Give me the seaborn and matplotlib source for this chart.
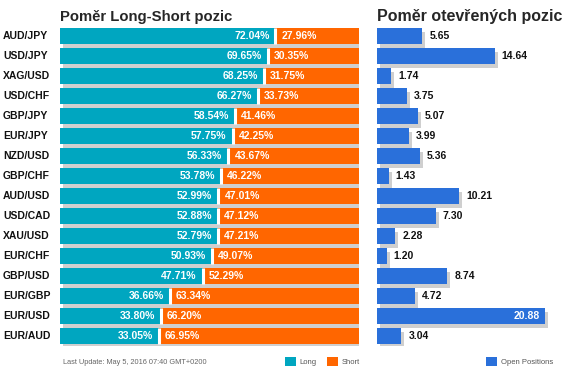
import numpy as np
import pandas as pd
import matplotlib
matplotlib.use("Agg")
import matplotlib.pyplot as plt
import matplotlib.transforms as mtransforms
from matplotlib.patches import Patch
import seaborn as sns

# ============================================================
# DATEN
# ============================================================
pairs = ["AUD/JPY", "USD/JPY", "XAG/USD", "USD/CHF", "GBP/JPY", "EUR/JPY",
         "NZD/USD", "GBP/CHF", "AUD/USD", "USD/CAD", "XAU/USD", "EUR/CHF",
         "GBP/USD", "EUR/GBP", "EUR/USD", "EUR/AUD"]
long_pct = [72.04, 69.65, 68.25, 66.27, 58.54, 57.75, 56.33, 53.78,
            52.99, 52.88, 52.79, 50.93, 47.71, 36.66, 33.80, 33.05]
short_pct = [27.96, 30.35, 31.75, 33.73, 41.46, 42.25, 43.67, 46.22,
             47.01, 47.12, 47.21, 49.07, 52.29, 63.34, 66.20, 66.95]
open_pos = [5.65, 14.64, 1.74, 3.75, 5.07, 3.99, 5.36, 1.43,
            10.21, 7.30, 2.28, 1.20, 8.74, 4.72, 20.88, 3.04]

title_left = "Poměr Long-Short pozic"
title_right = "Poměr otevřených pozic"
footer = "Last Update: May 5, 2016 07:40 GMT+0200"

df = pd.DataFrame({"pair": pairs, "long": long_pct, "short": short_pct, "open": open_pos})

TEAL = "#00a6c0"
ORANGE = "#ff6600"
BLUE = "#2a70da"
SHADOW = "#cfcfcf"

sns.set_style("white")
plt.rcParams["font.family"] = ["Liberation Sans", "DejaVu Sans"]

W, H = 569, 376
fig = plt.figure(figsize=(W / 100, H / 100), dpi=100)

def px_axes(x0, x1, y_top, y_bot):
    return fig.add_axes([x0 / W, 1 - y_bot / H, (x1 - x0) / W, (y_bot - y_top) / H])

ax_l = px_axes(60, 359, 26, 346)
ax_r = px_axes(377, 570, 26, 346)

n = len(pairs)
ypos = np.arange(n)
bar_h = 0.78

def shadow_trans(ax):
    return ax.transData + mtransforms.ScaledTranslation(3 / 100, -4 / 100, fig.dpi_scale_trans)

# ============================================================
# LINKS: LONG / SHORT
# ============================================================
totals = df["long"] + df["short"]
ax_l.barh(ypos, totals, height=bar_h, color=SHADOW, linewidth=0,
          transform=shadow_trans(ax_l), zorder=0.5)
sns.barplot(data=df, x="long", y="pair", orient="h", color=TEAL, saturation=1,
            width=bar_h, linewidth=0, ax=ax_l, zorder=2)
ax_l.barh(ypos, df["short"], left=df["long"], height=bar_h, color=ORANGE, linewidth=0, zorder=1)
ax_l.vlines(df["long"], ypos - bar_h / 2, ypos + bar_h / 2, color="white", lw=2.2, zorder=3)

pair_trans = mtransforms.blended_transform_factory(fig.transFigure, ax_l.transData)
for i, row in df.iterrows():
    ax_l.annotate(f"{row['long']:.2f}%", (row["long"], i), xytext=(-6, 0),
                  textcoords="offset pixels", ha="right", va="center",
                  color="white", fontsize=7.5, fontweight="bold", zorder=4)
    ax_l.annotate(f"{row['short']:.2f}%", (row["long"], i), xytext=(6, 0),
                  textcoords="offset pixels", ha="left", va="center",
                  color="white", fontsize=7.5, fontweight="bold", zorder=4)
    ax_l.text(3 / W, i, row["pair"], transform=pair_trans,
              ha="left", va="center", fontsize=7.5, fontweight="bold", color="#111111")

ax_l.set_xlim(0, 100)
ax_l.set_ylim(n - 0.5, -0.5)

# ============================================================
# RECHTS: OPEN POSITIONS
# ============================================================
ax_r.barh(ypos, df["open"], height=bar_h, color=SHADOW, linewidth=0,
          transform=shadow_trans(ax_r), zorder=0.5)
sns.barplot(data=df, x="open", y="pair", orient="h", color=BLUE, saturation=1,
            width=bar_h, linewidth=0, ax=ax_r, zorder=2)
for i, v in enumerate(df["open"]):
    if v > 18:
        ax_r.annotate(f"{v:.2f}", (v, i), xytext=(-5, 0), textcoords="offset pixels",
                      ha="right", va="center", color="white", fontsize=7.5, fontweight="bold")
    else:
        ax_r.annotate(f"{v:.2f}", (v, i), xytext=(7, 0), textcoords="offset pixels",
                      ha="left", va="center", color="#111111", fontsize=7.5, fontweight="bold")
ax_r.set_xlim(0, 193 / 8.05)
ax_r.set_ylim(n - 0.5, -0.5)

for ax in (ax_l, ax_r):
    ax.set_xlabel("")
    ax.set_ylabel("")
    ax.set_xticks([])
    ax.set_yticks([])
    sns.despine(ax=ax, left=True, bottom=True)

# ============================================================
# TITEL, FUSSZEILE, LEGENDEN
# ============================================================
fig.text(60 / W, 1 - 21.5 / H, title_left, fontsize=10.7, fontweight="bold", va="baseline")
fig.text(377 / W, 1 - 21.5 / H, title_right, fontsize=11.5, fontweight="bold", va="baseline")
fig.text(63 / W, 1 - 364 / H, footer, fontsize=5.3, color="#666666", va="baseline")

leg_kw = dict(frameon=False, fontsize=5.5, handlelength=1.45, handleheight=1.45,
              handletextpad=0.5, borderpad=0, labelcolor="#555555")
fig.legend(handles=[Patch(color=TEAL, label="Long", lw=0), Patch(color=ORANGE, label="Short", lw=0)],
           ncol=2, columnspacing=1.3, loc="center left",
           bbox_to_anchor=(281 / W, 1 - 361.5 / H), **leg_kw)
fig.legend(handles=[Patch(color=BLUE, label="Open Positions", lw=0)],
           loc="center left", bbox_to_anchor=(482 / W, 1 - 361.5 / H), **leg_kw)

plt.savefig("out.png", dpi=100)
